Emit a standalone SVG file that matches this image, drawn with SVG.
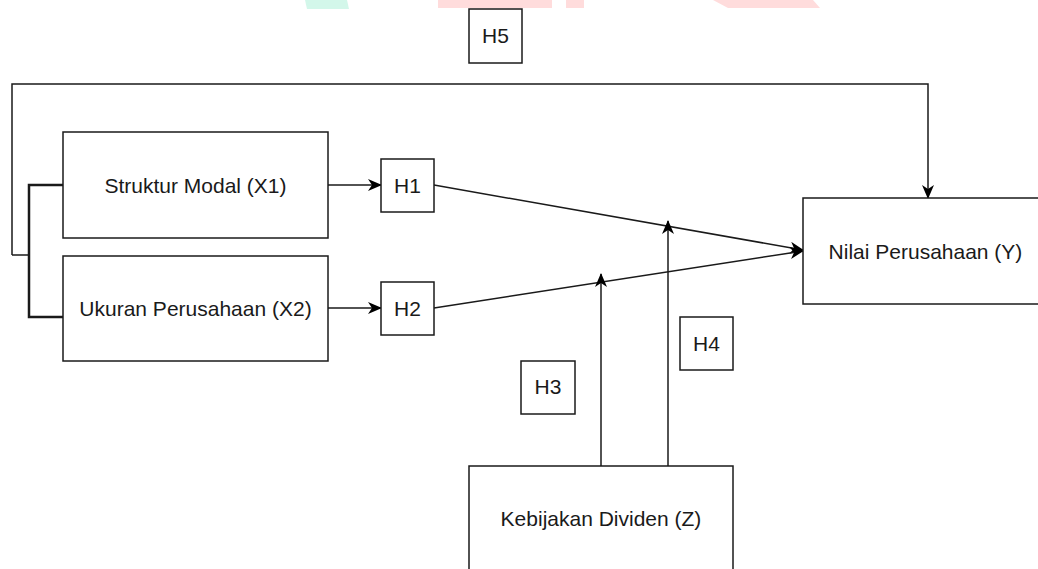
<svg xmlns="http://www.w3.org/2000/svg" width="1038" height="569" viewBox="0 0 1038 569">
<style>
.box{fill:#fff;stroke:#1a1a1a;stroke-width:1.5}
.lbl{font-family:"Liberation Sans",Arial,sans-serif;font-size:21px;fill:#1a1a1a;text-anchor:middle}
.ln{fill:none;stroke:#1a1a1a;stroke-width:1.5}
.wm-g{fill:#d3f7ea}
.wm-r{fill:#ffdcdc}
</style>
<defs>
<marker id="arr" markerUnits="userSpaceOnUse" markerWidth="14" markerHeight="12" viewBox="0 0 14 12" refX="13" refY="6" orient="auto">
<path d="M0,0 L14,6 L0,12 L4,6 Z" fill="#000"/>
</marker>
</defs>
<rect width="1038" height="569" fill="#fff"/>
<g id="watermark">
<polygon class="wm-g" points="305,0 347,0 349,9 307,9"/>
<polygon class="wm-r" points="438,0 552,0 552,8 438,8"/>
<polygon class="wm-r" points="566,0 584,0 584,8 566,8"/>
<polygon class="wm-r" points="713,0 813,0 820,8 728,8"/>
</g>
<g id="connectors">
<path class="ln" d="M12,255 L12,84 L928,84 L928,198" marker-end="url(#arr)"/>
<path class="ln" d="M12,255 L29,255"/>
<path class="ln" d="M63,185 L29,185 L29,317 L63,317" style="stroke-width:2.5"/>
<path class="ln" d="M328,185 L381,185" marker-end="url(#arr)"/>
<path class="ln" d="M328,308 L381,308" marker-end="url(#arr)"/>
<path class="ln" d="M434,185 L803,250" marker-end="url(#arr)"/>
<path class="ln" d="M434,308 L803,251" marker-end="url(#arr)"/>
<path class="ln" d="M601,466 L601,274" marker-end="url(#arr)"/>
<path class="ln" d="M668,466 L668,221" marker-end="url(#arr)"/>
</g>
<g id="struktur"><rect class="box" x="63" y="132" width="265" height="106"/><text class="lbl" x="195.5" y="192.5">Struktur Modal (X1)</text></g>
<g id="ukuran"><rect class="box" x="63" y="256" width="265" height="105"/><text class="lbl" x="195.5" y="315.5">Ukuran Perusahaan (X2)</text></g>
<g id="h1"><rect class="box" x="381" y="159" width="53" height="53"/><text class="lbl" x="407.5" y="193">H1</text></g>
<g id="h2"><rect class="box" x="381" y="282" width="53" height="53"/><text class="lbl" x="407.5" y="316">H2</text></g>
<g id="h3"><rect class="box" x="521" y="361" width="54" height="53"/><text class="lbl" x="548" y="394">H3</text></g>
<g id="h4"><rect class="box" x="680" y="317" width="53" height="53"/><text class="lbl" x="706.5" y="350.5">H4</text></g>
<g id="h5"><rect class="box" x="469" y="9" width="53" height="54"/><text class="lbl" x="495.5" y="43">H5</text></g>
<g id="nilai"><rect class="box" x="803" y="198" width="245" height="106"/><text class="lbl" x="925.5" y="258.5">Nilai Perusahaan (Y)</text></g>
<g id="kebijakan"><rect class="box" x="469" y="466" width="264" height="120"/><text class="lbl" x="601" y="525.5">Kebijakan Dividen (Z)</text></g>
</svg>
